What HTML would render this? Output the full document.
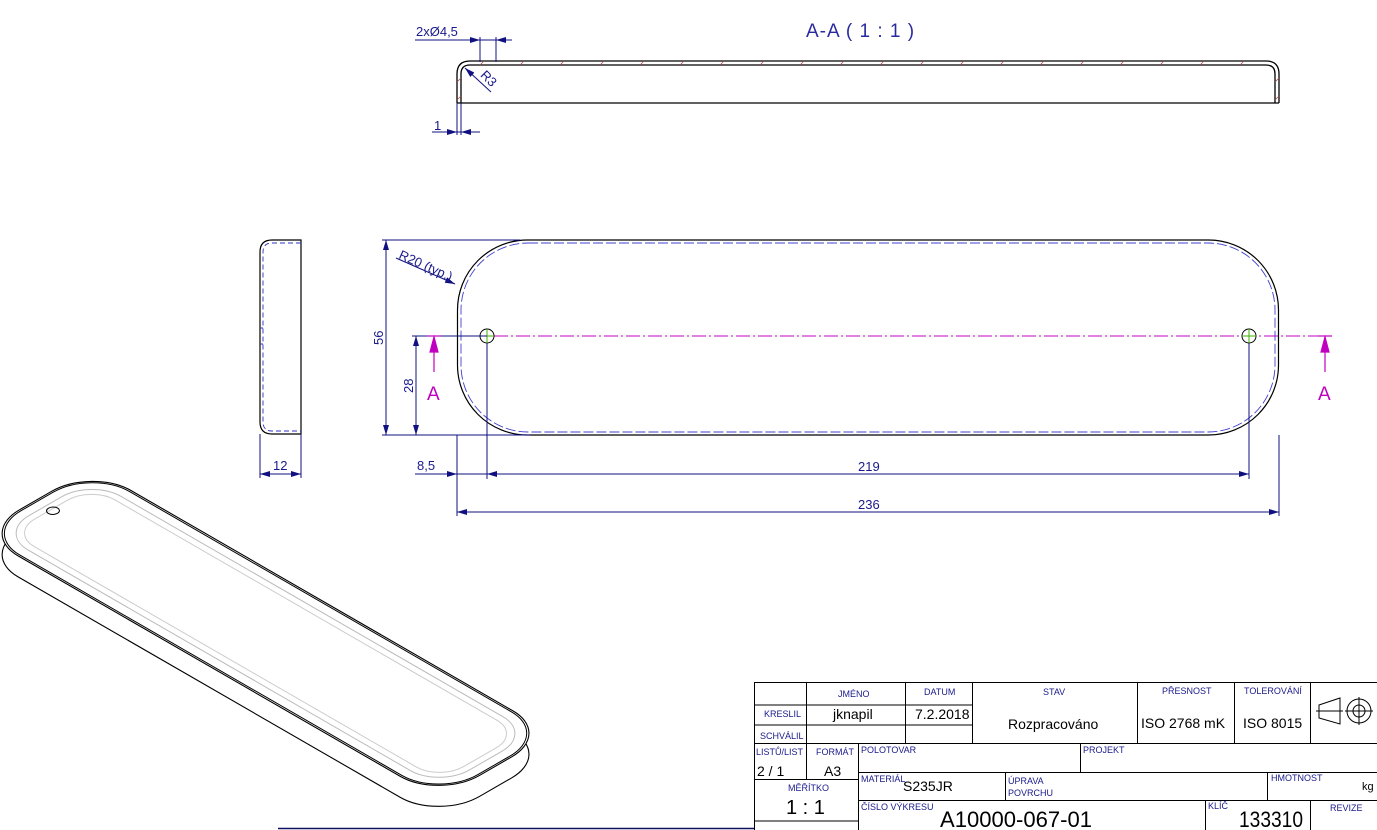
<!DOCTYPE html>
<html><head><meta charset="utf-8"><style>
html,body{margin:0;padding:0;background:#fff;}
svg{display:block;}
text{font-family:"Liberation Sans","DejaVu Sans",sans-serif;}
.d{fill:#1a1a8c;}
</style></head><body>
<svg width="1377" height="830" viewBox="0 0 1377 830" xmlns="http://www.w3.org/2000/svg">
<defs>
<marker id="ar" viewBox="0 0 10 6" refX="10" refY="3" markerWidth="10" markerHeight="6" orient="auto-start-reverse" markerUnits="userSpaceOnUse"><path d="M0,0 L10,3 L0,6 Z" fill="#101080"/></marker>
</defs>

<!-- Section A-A -->
<text x="806" y="37" font-size="19" fill="#2a2aa0" letter-spacing="1">A-A ( 1 : 1 )</text>
<g fill="none" stroke="#000" stroke-width="1.3">
<path d="M457,103 V74 Q457,61 470,61 H1266 Q1279,61 1279,74 V103"/>
<path d="M461,103 V74 Q461,65 470,65 H1266 Q1275,65 1275,74 V103"/>
<line x1="457" y1="103" x2="1279" y2="103"/>
</g>
<g stroke="#b04040" stroke-width="0.7">
<path d="M480,65 l4,-4 M520,65 l4,-4 M560,65 l4,-4 M600,65 l4,-4 M640,65 l4,-4 M680,65 l4,-4 M720,65 l4,-4 M760,65 l4,-4 M800,65 l4,-4 M840,65 l4,-4 M880,65 l4,-4 M920,65 l4,-4 M960,65 l4,-4 M1000,65 l4,-4 M1040,65 l4,-4 M1080,65 l4,-4 M1120,65 l4,-4 M1160,65 l4,-4 M1200,65 l4,-4 M1240,65 l4,-4 M457,82 l4,-4 M457,100 l4,-4 M1275,82 l4,-4 M1275,100 l4,-4"/>
</g>
<g stroke="#101080" stroke-width="1" fill="none">
<line x1="480" y1="37" x2="480" y2="62"/><line x1="496" y1="37" x2="496" y2="62"/>
<line x1="415" y1="40" x2="512" y2="40"/>
<line x1="470" y1="40" x2="480" y2="40" marker-end="url(#ar)"/>
<line x1="506" y1="40" x2="496" y2="40" marker-end="url(#ar)"/>
<line x1="491" y1="92" x2="465" y2="68" marker-end="url(#ar)"/>
<line x1="457" y1="103" x2="457" y2="135"/><line x1="461" y1="103" x2="461" y2="135"/>
<line x1="432" y1="132" x2="480" y2="132"/>
<line x1="447" y1="132" x2="457" y2="132" marker-end="url(#ar)"/>
<line x1="471" y1="132" x2="461" y2="132" marker-end="url(#ar)"/>
</g>
<text x="416" y="36" font-size="13" class="d">2xØ4,5</text>
<text x="478" y="80" font-size="13" class="d" transform="rotate(45 484 80)">R3</text>
<text x="434" y="130" font-size="13" class="d">1</text>

<!-- Side view -->
<g fill="none">
<path d="M301,240 H272 Q260,240 260,252 V422 Q260,434 272,434 H301 Z" stroke="#000" stroke-width="1.2"/>
<path d="M301,243 H272 Q263,243 263,252 V422 Q263,431 272,431 H301" stroke="#3030c0" stroke-width="0.9" stroke-dasharray="5,3"/>
<line x1="260" y1="328" x2="263" y2="328" stroke="#3030c0"/><line x1="260" y1="344" x2="263" y2="344" stroke="#3030c0"/>
<g stroke="#101080" stroke-width="1">
<line x1="260" y1="434" x2="260" y2="478"/><line x1="301" y1="434" x2="301" y2="478"/>
<line x1="270" y1="474" x2="260" y2="474" marker-end="url(#ar)"/><line x1="270" y1="474" x2="291" y2="474"/>
<line x1="291" y1="474" x2="301" y2="474" marker-end="url(#ar)"/>
</g>
</g>
<text x="273" y="470" font-size="13" class="d">12</text>

<!-- Main view -->
<g fill="none">
<rect x="457.5" y="240" width="821" height="195" rx="70" ry="70" stroke="#000" stroke-width="1.2"/>
<rect x="461" y="243" width="814" height="189" rx="67" ry="67" stroke="#4040d0" stroke-width="0.9" stroke-dasharray="10,3"/>
<line x1="494" y1="336" x2="1330" y2="336" stroke="#c000c0" stroke-width="1" stroke-dasharray="14,3,2,3"/>
<circle cx="487" cy="336" r="7" stroke="#000" stroke-width="1"/>
<circle cx="1249" cy="336" r="7" stroke="#000" stroke-width="1"/>
<path d="M480,336 H494 M487,329 V343 M1242,336 H1256 M1249,329 V343" stroke="#40b000" stroke-width="1"/>
<g stroke="#101080" stroke-width="1">
<line x1="382" y1="240" x2="520" y2="240"/><line x1="382" y1="435" x2="530" y2="435"/>
<line x1="386" y1="250" x2="386" y2="240" marker-end="url(#ar)"/><line x1="386" y1="250" x2="386" y2="425"/>
<line x1="386" y1="425" x2="386" y2="435" marker-end="url(#ar)"/>
<line x1="412" y1="336" x2="487" y2="336"/>
<line x1="416" y1="346" x2="416" y2="336" marker-end="url(#ar)"/><line x1="416" y1="346" x2="416" y2="425"/>
<line x1="416" y1="425" x2="416" y2="435" marker-end="url(#ar)"/>
<line x1="396" y1="258" x2="455" y2="284" marker-end="url(#ar)"/>
<line x1="457" y1="435" x2="457" y2="516"/><line x1="487" y1="343" x2="487" y2="479"/>
<line x1="1249" y1="343" x2="1249" y2="479"/><line x1="1279" y1="435" x2="1279" y2="516"/>
<line x1="415" y1="474" x2="1249" y2="474"/>
<line x1="447" y1="474" x2="457" y2="474" marker-end="url(#ar)"/>
<line x1="497" y1="474" x2="487" y2="474" marker-end="url(#ar)"/>
<line x1="1239" y1="474" x2="1249" y2="474" marker-end="url(#ar)"/>
<line x1="467" y1="512" x2="457" y2="512" marker-end="url(#ar)"/><line x1="467" y1="512" x2="1269" y2="512"/>
<line x1="1269" y1="512" x2="1279" y2="512" marker-end="url(#ar)"/>
</g>
<g stroke="#c000c0" stroke-width="1.2" fill="#c000c0">
<line x1="427" y1="336" x2="441" y2="336"/><line x1="434" y1="337" x2="434" y2="372"/>
<path d="M434,337 L430,352 L438,352 Z"/>
<line x1="1318" y1="336" x2="1332" y2="336"/><line x1="1325" y1="337" x2="1325" y2="372"/>
<path d="M1325,337 L1321,352 L1329,352 Z"/>
</g>
</g>
<text x="427" y="400" font-size="19" fill="#c000c0">A</text>
<text x="1318" y="400" font-size="19" fill="#c000c0">A</text>
<text x="383" y="345" font-size="13" class="d" transform="rotate(-90 383 345)">56</text>
<text x="413" y="393" font-size="13" class="d" transform="rotate(-90 413 393)">28</text>
<text x="398" y="258" font-size="13" class="d" transform="rotate(24 398 258)">R20 (typ.)</text>
<text x="417" y="470" font-size="13" class="d">8,5</text>
<text x="858" y="471" font-size="13" class="d">219</text>
<text x="858" y="509" font-size="13" class="d">236</text>

<!-- Isometric -->
<g fill="none" stroke-linejoin="round">
<g transform="matrix(1.95,1.125,-2.02,1.165,92,489)">
<rect x="0" y="0" width="236" height="56" rx="20" ry="20" stroke="#000" stroke-width="1.1" vector-effect="non-scaling-stroke"/>
</g>
<g transform="matrix(1.95,1.125,-2.02,1.165,92,468)">
<rect x="0" y="0" width="236" height="56" rx="20" ry="20" stroke="#000" stroke-width="1.1" vector-effect="non-scaling-stroke" fill="#fff"/>
<rect x="0.8" y="0.8" width="234.4" height="54.4" rx="19.2" ry="19.2" stroke="#000" stroke-width="1" vector-effect="non-scaling-stroke"/>
<rect x="5" y="5" width="226" height="46" rx="15" ry="15" stroke="#bbb" stroke-width="1" vector-effect="non-scaling-stroke"/>
<rect x="8" y="8" width="220" height="40" rx="12" ry="12" stroke="#ccc" stroke-width="1" vector-effect="non-scaling-stroke"/>
<ellipse cx="9" cy="28" rx="2.3" ry="2.3" stroke="#000" stroke-width="1" vector-effect="non-scaling-stroke"/>
</g>
</g>

<!-- bottom border line -->
<line x1="278" y1="828.5" x2="755" y2="828.5" stroke="#101060" stroke-width="1.5"/>

<!-- Title block -->
<g stroke="#000" stroke-width="1" fill="none">
<rect x="754.5" y="682.5" width="623" height="148"/>
<line x1="754" y1="705" x2="972" y2="705"/>
<line x1="754" y1="725" x2="972" y2="725"/>
<line x1="754" y1="743.5" x2="1377" y2="743.5"/>
<line x1="754" y1="779.5" x2="858" y2="779.5"/>
<line x1="858" y1="772.5" x2="1377" y2="772.5"/>
<line x1="858" y1="800.5" x2="1377" y2="800.5"/>
<line x1="754" y1="821" x2="858" y2="821"/>
<line x1="806.5" y1="682" x2="806.5" y2="779"/>
<line x1="905.5" y1="682" x2="905.5" y2="743"/>
<line x1="972.5" y1="682" x2="972.5" y2="743"/>
<line x1="1137.5" y1="682" x2="1137.5" y2="743"/>
<line x1="1234.5" y1="682" x2="1234.5" y2="743"/>
<line x1="1310.5" y1="682" x2="1310.5" y2="743"/>
<line x1="858.5" y1="743" x2="858.5" y2="830"/>
<line x1="1080.5" y1="743" x2="1080.5" y2="772"/>
<line x1="1005.5" y1="772" x2="1005.5" y2="800"/>
<line x1="1267.5" y1="772" x2="1267.5" y2="800"/>
<line x1="1205.5" y1="800" x2="1205.5" y2="830"/>
<line x1="1310.5" y1="800" x2="1310.5" y2="830"/>
<path d="M1319,705 L1340,698 V724 L1319,718 Z M1316,711 H1343"/>
<circle cx="1359" cy="711" r="12"/><circle cx="1359" cy="711" r="6"/>
<path d="M1345,711 H1373 M1359,697 V725"/>
</g>
<g font-size="9" fill="#1a1a8c">
<text x="838" y="697">JMÉNO</text>
<text x="924" y="695">DATUM</text>
<text x="1043" y="695">STAV</text>
<text x="1162" y="694">PŘESNOST</text>
<text x="1244" y="694">TOLEROVÁNÍ</text>
<text x="764" y="717">KRESLIL</text>
<text x="760" y="739">SCHVÁLIL</text>
<text x="756" y="755">LISTŮ/LIST</text>
<text x="816" y="755">FORMÁT</text>
<text x="861" y="753">POLOTOVAR</text>
<text x="1083" y="753">PROJEKT</text>
<text x="788" y="791">MĚŘÍTKO</text>
<text x="861" y="782">MATERIÁL</text>
<text x="1008" y="784">ÚPRAVA</text>
<text x="1008" y="796">POVRCHU</text>
<text x="1271" y="781">HMOTNOST</text>
<text x="861" y="810">ČÍSLO VÝKRESU</text>
<text x="1208" y="809">KLÍČ</text>
<text x="1330" y="811">REVIZE</text>
</g>
<g fill="#000">
<text x="833" y="719" font-size="14">jknapil</text>
<text x="915" y="719" font-size="14">7.2.2018</text>
<text x="1008" y="729" font-size="14">Rozpracováno</text>
<text x="1141" y="728" font-size="14">ISO 2768 mK</text>
<text x="1243" y="728" font-size="14">ISO 8015</text>
<text x="757" y="776" font-size="14">2  / 1</text>
<text x="824" y="776" font-size="14">A3</text>
<text x="903" y="791" font-size="14">S235JR</text>
<text x="1362" y="790" font-size="11">kg</text>
<text x="786" y="814" font-size="20">1 : 1</text>
<text x="940" y="827" font-size="22" textLength="152" lengthAdjust="spacingAndGlyphs">A10000-067-01</text>
<text x="1239" y="827" font-size="22" textLength="64" lengthAdjust="spacingAndGlyphs">133310</text>
</g>
</svg>
</body></html>
